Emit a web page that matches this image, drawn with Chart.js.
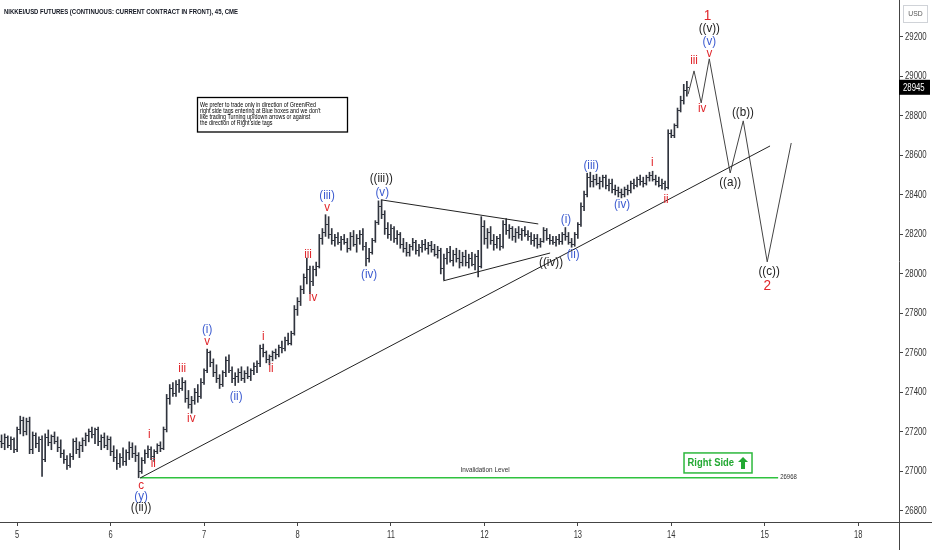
<!DOCTYPE html>
<html><head><meta charset="utf-8">
<script src="https://cdn.jsdelivr.net/npm/chart.js@4.4.1/dist/chart.umd.min.js"></script>
<style>html,body{margin:0;padding:0;background:#fff;}#wrap{width:932px;height:550px;position:relative;}canvas{display:block;}</style>
</head><body><div id="wrap"><canvas id="c" width="932" height="550"></canvas></div>
<script>
// ---- DATA ----
const titleText = 'NIKKEI/USD FUTURES (CONTINUOUS: CURRENT CONTRACT IN FRONT), 45, CME';
const dayTicks = [0, 30, 60, 90, 120, 150, 180, 210, 240, 270];
const dayLabels = ['5', '6', '7', '8', '11', '12', '13', '14', '15', '18'];
const firstSlot = -5; // slot of first 45-min bar (30 slots per session)
const yTickStep = 200;

const opens = [
27150,27140,27170,27130,27160,27110,27210,27260,27200,27255,
27110,27180,27140,27160,27060,27170,27145,27175,27150,27120,
27090,27060,27030,27075,27150,27110,27130,27155,27180,27200,
27185,27210,27150,27170,27130,27160,27100,27070,27040,27070,
27050,27095,27120,27090,27080,27000,27055,27090,27110,27075,
27100,27130,27115,27210,27370,27420,27395,27440,27420,27450,
27370,27340,27360,27400,27380,27450,27510,27600,27550,27500,
27470,27440,27500,27560,27510,27470,27480,27500,27470,27495,
27480,27510,27530,27545,27620,27600,27565,27580,27600,27590,
27630,27620,27665,27650,27700,27820,27860,27920,27980,28020,
27960,28020,28040,28180,28210,28250,28200,28170,28185,28160,
28175,28160,28130,28190,28150,28180,28200,28140,28080,28110,
28170,28260,28340,28300,28230,28200,28230,28180,28200,28150,
28130,28110,28140,28160,28120,28135,28150,28130,28145,28125,
28100,28120,28030,28080,28110,28070,28100,28080,28060,28090,
28060,28080,28050,28090,28040,28240,28180,28210,28170,28150,
28180,28140,28250,28220,28230,28190,28210,28200,28220,28200,
28190,28170,28180,28150,28165,28220,28180,28170,28160,28175,
28165,28200,28190,28160,28150,28200,28250,28340,28400,28490,
28470,28480,28460,28470,28490,28450,28460,28430,28420,28410,
28400,28430,28420,28460,28450,28480,28470,28460,28490,28500,
28480,28470,28450,28460,28440,28710,28700,28750,28830,28880,
28930];
const highs = [
27185,27190,27180,27175,27170,27225,27280,27275,27270,27275,
27200,27195,27175,27180,27190,27210,27185,27200,27175,27160,
27110,27080,27090,27165,27170,27150,27170,27195,27215,27225,
27220,27225,27185,27195,27180,27175,27130,27110,27090,27120,
27110,27150,27145,27130,27095,27070,27110,27130,27125,27110,
27140,27150,27225,27390,27440,27450,27460,27465,27475,27460,
27410,27380,27420,27440,27470,27520,27620,27610,27570,27540,
27490,27510,27580,27590,27530,27500,27520,27530,27510,27530,
27520,27550,27560,27640,27645,27610,27590,27610,27620,27640,
27660,27680,27700,27710,27840,27880,27940,28000,28080,28040,
28040,28060,28200,28230,28300,28290,28230,28200,28210,28190,
28200,28180,28210,28220,28200,28220,28230,28160,28130,28180,
28270,28370,28375,28320,28260,28250,28240,28220,28210,28180,
28160,28150,28180,28170,28150,28170,28175,28160,28165,28150,
28140,28130,28100,28130,28140,28120,28130,28120,28110,28120,
28100,28110,28100,28120,28290,28270,28230,28240,28200,28190,
28200,28270,28280,28250,28240,28230,28240,28230,28240,28220,
28210,28200,28200,28180,28235,28230,28200,28190,28190,28200,
28210,28235,28210,28180,28210,28260,28360,28420,28510,28515,
28500,28505,28490,28500,28500,28480,28480,28450,28440,28430,
28440,28450,28470,28480,28490,28500,28490,28500,28515,28520,
28500,28490,28480,28470,28730,28730,28760,28840,28900,28960,
28975];
const lows = [
27120,27110,27120,27110,27095,27100,27190,27180,27185,27090,
27090,27120,27100,26975,27050,27130,27110,27140,27100,27070,
27040,27010,27020,27060,27090,27070,27100,27130,27150,27170,
27140,27130,27110,27120,27110,27080,27050,27010,27020,27030,
27030,27060,27070,27050,26968,26990,27040,27070,27060,27050,
27090,27100,27110,27200,27340,27380,27380,27400,27410,27350,
27320,27295,27340,27350,27370,27440,27500,27530,27480,27450,
27420,27430,27480,27500,27450,27435,27450,27460,27450,27470,
27460,27490,27500,27530,27580,27550,27540,27560,27570,27580,
27600,27610,27640,27640,27690,27790,27840,27900,27950,27900,
27940,27990,28030,28150,28190,28180,28150,28140,28150,28120,
28150,28110,28120,28140,28110,28150,28120,28040,28060,28100,
28160,28250,28280,28200,28180,28170,28160,28150,28130,28110,
28090,28090,28120,28100,28090,28110,28120,28100,28110,28090,
28080,28000,27970,28050,28060,28040,28060,28030,28040,28040,
28030,28040,28020,27985,28030,28150,28130,28150,28120,28130,
28120,28130,28200,28180,28170,28160,28180,28170,28190,28170,
28150,28140,28130,28135,28160,28170,28150,28150,28140,28150,
28150,28170,28150,28135,28140,28180,28240,28320,28390,28440,
28440,28450,28430,28440,28430,28420,28410,28400,28390,28385,
28390,28400,28410,28430,28440,28450,28440,28450,28470,28470,
28450,28440,28430,28425,28430,28690,28690,28740,28820,28860,
28900];
const closes = [
27140,27170,27130,27160,27110,27210,27260,27200,27255,27110,
27180,27140,27160,27060,27170,27145,27175,27150,27120,27090,
27060,27030,27075,27150,27110,27130,27155,27180,27200,27185,
27210,27150,27170,27130,27160,27100,27070,27040,27070,27050,
27095,27120,27090,27080,27000,27055,27090,27110,27075,27100,
27130,27115,27210,27370,27420,27395,27440,27420,27450,27370,
27340,27360,27400,27380,27450,27510,27600,27550,27500,27470,
27440,27500,27560,27510,27470,27480,27500,27470,27495,27480,
27510,27530,27545,27620,27600,27565,27580,27600,27590,27630,
27620,27665,27650,27700,27820,27860,27920,27980,28020,27960,
28020,28040,28180,28210,28250,28200,28170,28185,28160,28175,
28160,28130,28190,28150,28180,28200,28140,28080,28110,28170,
28260,28340,28300,28230,28200,28230,28180,28200,28150,28130,
28110,28140,28160,28120,28135,28150,28130,28145,28125,28100,
28120,28030,28080,28110,28070,28100,28080,28060,28090,28060,
28080,28050,28090,28040,28240,28180,28210,28170,28150,28180,
28140,28250,28220,28230,28190,28210,28200,28220,28200,28190,
28170,28180,28150,28165,28220,28180,28170,28160,28175,28165,
28200,28190,28160,28150,28200,28250,28340,28400,28490,28470,
28480,28460,28470,28490,28450,28460,28430,28420,28410,28400,
28430,28420,28460,28450,28480,28470,28460,28490,28500,28480,
28470,28450,28460,28440,28710,28700,28750,28830,28880,28930,
28945];

// Elliott wave labels (slot, price, text, degree)
const waveText  = ['c','(y)','((ii))','i','ii','iii','iv','v','(i)','(ii)','i','ii','iii','iv','v','(iii)','(iv)','(v)','((iii))','((iv))','(i)','(ii)','(iii)','(iv)','i','ii','iii','iv','v','(v)','((v))','1','((b))','((a))','((c))','2'];
const waveSlot  = [39.8,39.8,39.8,42.4,43.7,53,55.9,61,61,70.3,79,81.5,93.4,95,99.5,99.5,113,117.2,116.9,171.4,176.2,178.5,184.3,194.2,203.9,208.3,217.3,219.9,222.2,222.2,222.2,221.6,233,228.9,241.4,240.8];
const wavePrice = [26927,26874,26818,27185,27038,27519,27266,27656,27716,27377,27681,27519,28096,27878,28334,28395,27995,28410,28481,28056,28273,28096,28547,28349,28562,28375,29078,28835,29114,29174,29240,29306,28815,28461,28010,27939];
const waveDegree= ['m','i','p','m','m','m','m','m','i','i','m','m','m','m','m','i','i','i','p','p','i','i','i','i','m','m','m','m','m','i','p','M','p','p','p','M'];

// Lines
const trendSlots = [39.5, 241.7], trendPrices = [26967, 28648];
const triUpSlots = [116.9, 167.3], triUpPrices = [28375, 28253];
const triLoSlots = [136.8, 171.1], triLoPrices = [27965, 28106];
const projSlots  = [215.4, 217.3, 219.6, 222.2, 228.9, 233.1, 240.8, 248.5];
const projPrices = [28910, 29028, 28866, 29089, 28511, 28775, 28061, 28663];
const invalidSlots = [39.5, 244.3];
const invalidLevel = 26968;
const invalidLabelSlot = 150.2;
const rightSideSlot = 225, rightSidePrice = 27043;
const noteLines = ['We prefer to trade only in direction of Green/Red','right side tags entering at Blue boxes and we don\'t','like trading Turning up/down arrows or against','the direction of Right side tags'];

// ---- STYLE ----
const SANS = '"Liberation Sans",sans-serif';
const degreeColor = {m:'#e0262b', i:'#3c5bd0', p:'#222222', M:'#e0262b'};
const degreeFont = {m:'12px ' + SANS, i:'12px ' + SANS, p:'12px ' + SANS, M:'14px ' + SANS};
const BAR = '#30343e';

function tickImg(left){
  const c = document.createElement('canvas'); c.width = 5; c.height = 1;
  const g = c.getContext('2d'); g.fillStyle = BAR;
  g.fillRect(left ? 0 : 3, 0, 2, 1); return c;
}
const openImg = tickImg(true), closeImg = tickImg(false);
const slots = closes.map((_, i) => firstSlot + i);
const pts = (xs, ys) => xs.map((x, i) => ({x, y: ys[i]}));

function narrowText(ctx, text, x, y, sx){
  ctx.save(); ctx.translate(x, y); ctx.scale(sx, 1); ctx.fillText(text, 0, 0); ctx.restore();
}

const overlay = {
  id: 'overlay',
  afterDraw(chart){
    const ctx = chart.ctx, xs = chart.scales.x, ys = chart.scales.y, ca = chart.chartArea;
    ctx.save();
    // axis line extensions into the corner
    ctx.strokeStyle = '#444'; ctx.lineWidth = 1;
    ctx.beginPath();
    ctx.moveTo(Math.round(ca.right) + 0.5, ca.bottom); ctx.lineTo(Math.round(ca.right) + 0.5, chart.height);
    ctx.moveTo(ca.right, Math.round(ca.bottom) + 0.5); ctx.lineTo(chart.width, Math.round(ca.bottom) + 0.5);
    ctx.stroke();
    // axis tick labels (condensed)
    ctx.fillStyle = '#333'; ctx.font = '10px ' + SANS; ctx.textBaseline = 'middle';
    ctx.textAlign = 'center';
    xs.ticks.forEach((t, i) => narrowText(ctx, dayLabels[i], xs.getPixelForValue(t.value), 535, 0.75));
    ctx.textAlign = 'left';
    ys.ticks.forEach(t => narrowText(ctx, String(t.value), 905, ys.getPixelForValue(t.value), 0.78));
    // wave labels
    ctx.textAlign = 'center'; ctx.textBaseline = 'middle';
    waveText.forEach((t, i) => {
      ctx.font = degreeFont[waveDegree[i]];
      ctx.fillStyle = degreeColor[waveDegree[i]];
      narrowText(ctx, t, xs.getPixelForValue(waveSlot[i]), ys.getPixelForValue(wavePrice[i]), 0.97);
    });
    // invalidation texts
    ctx.fillStyle = '#333'; ctx.font = '7.5px ' + SANS;
    ctx.textAlign = 'center'; ctx.textBaseline = 'alphabetic';
    narrowText(ctx, 'Invalidation Level', xs.getPixelForValue(invalidLabelSlot), ys.getPixelForValue(invalidLevel) - 5.5, 0.85);
    ctx.textAlign = 'left'; ctx.textBaseline = 'middle';
    narrowText(ctx, String(invalidLevel), xs.getPixelForValue(invalidSlots[1]) + 2, ys.getPixelForValue(invalidLevel) - 1, 0.8);
    // Right side box
    const rx = xs.getPixelForValue(rightSideSlot), ry = ys.getPixelForValue(rightSidePrice);
    ctx.fillStyle = '#fff'; ctx.fillRect(rx - 34, ry - 10, 68, 20);
    ctx.strokeStyle = '#2db83d'; ctx.lineWidth = 1.5; ctx.strokeRect(rx - 34, ry - 10, 68, 20);
    ctx.fillStyle = '#22a832'; ctx.font = 'bold 11px ' + SANS;
    ctx.textAlign = 'left'; ctx.textBaseline = 'middle';
    const rw = ctx.measureText('Right Side').width;
    narrowText(ctx, 'Right Side', rx - 30.5, ry + 0.5, 46.5 / rw);
    // up arrow
    const ax = rx + 25, ay = ry;
    ctx.beginPath();
    ctx.moveTo(ax, ay - 6); ctx.lineTo(ax + 5, ay - 1); ctx.lineTo(ax + 2, ay - 1); ctx.lineTo(ax + 2, ay + 6);
    ctx.lineTo(ax - 2, ay + 6); ctx.lineTo(ax - 2, ay - 1); ctx.lineTo(ax - 5, ay - 1); ctx.closePath(); ctx.fill();
    // title
    ctx.fillStyle = '#131722'; ctx.font = 'bold 8px ' + SANS;
    ctx.textAlign = 'left'; ctx.textBaseline = 'middle';
    let w = ctx.measureText(titleText).width;
    narrowText(ctx, titleText, 4, 11.5, 234 / w);
    // note box
    ctx.fillStyle = '#fff'; ctx.fillRect(197, 97, 151, 35);
    ctx.strokeStyle = '#000'; ctx.lineWidth = 1.3; ctx.strokeRect(197.5, 97.5, 150, 34.5);
    ctx.fillStyle = '#000'; ctx.font = '6.5px ' + SANS; ctx.textBaseline = 'alphabetic';
    w = ctx.measureText(noteLines[0]).width;
    const sc = 116 / w;
    noteLines.forEach((l, i) => narrowText(ctx, l, 200, 107 + i * 5.9, sc));
    // USD box
    ctx.strokeStyle = '#d0d3d8'; ctx.lineWidth = 1; ctx.strokeRect(903.5, 5.5, 24, 17);
    ctx.fillStyle = '#555'; ctx.font = '8px ' + SANS; ctx.textAlign = 'center'; ctx.textBaseline = 'middle';
    narrowText(ctx, 'USD', 915.5, 14, 0.85);
    // last price tag
    const last = closes[closes.length - 1], py = ys.getPixelForValue(last);
    ctx.fillStyle = '#000'; ctx.fillRect(899, py - 7.5, 31, 15);
    ctx.fillStyle = '#fff'; ctx.font = '10px ' + SANS; ctx.textAlign = 'left';
    narrowText(ctx, String(last), 903, py + 0.5, 0.78);
    ctx.restore();
  }
};

new Chart(document.getElementById('c'), {
  type: 'line',
  data: {
    datasets: [
      {type: 'bar', data: slots.map((s, i) => ({x: s, y: [lows[i], highs[i]]})), backgroundColor: BAR, barThickness: 1, grouped: false, borderWidth: 0, order: 5},
      {type: 'scatter', data: pts(slots, opens), pointStyle: openImg, pointRadius: 2, order: 4},
      {type: 'scatter', data: pts(slots, closes), pointStyle: closeImg, pointRadius: 2, order: 4},
      {data: pts(trendSlots, trendPrices), borderColor: '#222', borderWidth: 1, pointRadius: 0, order: 1},
      {data: pts(triUpSlots, triUpPrices), borderColor: '#222', borderWidth: 1, pointRadius: 0, order: 1},
      {data: pts(triLoSlots, triLoPrices), borderColor: '#222', borderWidth: 1, pointRadius: 0, order: 1},
      {data: pts(projSlots, projPrices), borderColor: '#444', borderWidth: 1, pointRadius: 0, order: 1},
      {data: pts(invalidSlots, [invalidLevel, invalidLevel]), borderColor: '#2fc23f', borderWidth: 1.5, pointRadius: 0, order: 1}
    ]
  },
  options: {
    responsive: false, animation: false, devicePixelRatio: 1,
    layout: {padding: 0, autoPadding: false},
    plugins: {legend: {display: false}, tooltip: {enabled: false}, title: {display: false}},
    scales: {
      x: {
        type: 'linear', min: -5.5, max: 283.1, offset: false,
        afterBuildTicks: s => { s.ticks = dayTicks.map(v => ({value: v})); },
        afterFit: s => { s.height = 28; },
        ticks: {display: false, autoSkip: false, maxRotation: 0},
        grid: {offset: false, drawOnChartArea: false, tickLength: 4, color: '#444'},
        border: {color: '#444'}
      },
      y: {
        type: 'linear', position: 'right', min: 26744, max: 29387,
        afterFit: s => { s.width = 33; },
        ticks: {display: false, stepSize: yTickStep, includeBounds: false},
        grid: {offset: false, drawOnChartArea: false, tickLength: 4, color: '#444'},
        border: {color: '#444'}
      }
    }
  },
  plugins: [overlay]
});
</script></body></html>
